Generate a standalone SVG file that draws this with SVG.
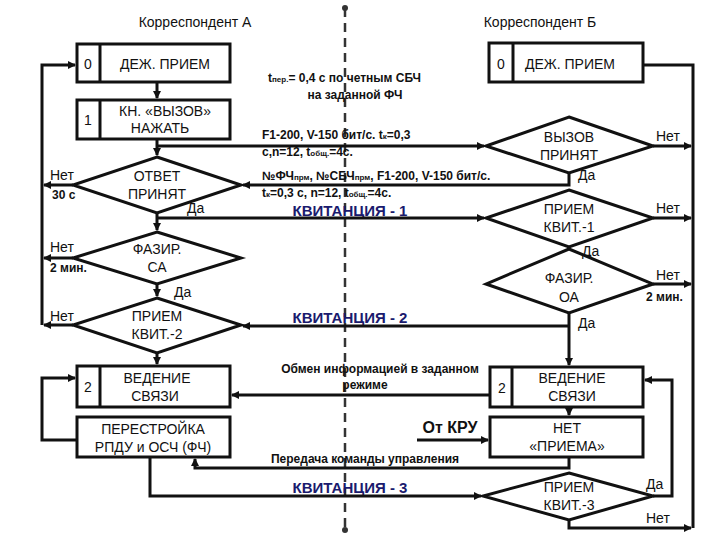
<svg xmlns="http://www.w3.org/2000/svg" width="720" height="540" viewBox="0 0 720 540">
<style>
text{font-family:"Liberation Sans",Arial,sans-serif;font-size:14px;fill:#111}
.n{text-anchor:middle}
.s{font-size:12px;font-weight:bold}
.k{font-size:15px;font-weight:bold;fill:#1a1a6e;text-anchor:middle}
.b{fill:#fff;stroke:#111;stroke-width:3}
.l{fill:none;stroke:#111;stroke-width:3}
</style>
<defs><marker id="a" markerWidth="8" markerHeight="8" refX="7" refY="4" orient="auto" markerUnits="userSpaceOnUse" viewBox="0 0 8 8"><path d="M0,0L8,4L0,8z" fill="#111"/></marker></defs>
<rect width="720" height="540" fill="#fff"/>
<line x1="345" y1="8" x2="345" y2="530" stroke="#333" stroke-width="2.5" stroke-dasharray="9,6"/>
<circle cx="345" cy="8" r="3" fill="#333"/><circle cx="345" cy="530" r="3" fill="#333"/>
<text x="195" y="27" class="n">Корреспондент А</text>
<text x="540" y="27" class="n">Корреспондент Б</text>
<text x="268" y="82" class="s">t<tspan font-size="8">пер.</tspan>= 0,4 с по четным СБЧ</text>
<text x="355" y="99" class="s n">на заданной ФЧ</text>
<text x="262" y="139" class="s">F1-200, V-150 бит/с. t<tspan font-size="8">к</tspan>=0,3</text>
<text x="262" y="156" class="s">с,n=12, t<tspan font-size="8">общ.</tspan>=4с.</text>
<text x="262" y="180" class="s">№ФЧ<tspan font-size="8">прм</tspan>, №СБЧ<tspan font-size="8">прм</tspan>, F1-200, V-150 бит/с.</text>
<text x="262" y="197" class="s">t<tspan font-size="8">к</tspan>=0,3 с, n=12, t<tspan font-size="8">общ.</tspan>=4с.</text>
<text x="350" y="216" class="k">КВИТАНЦИЯ - 1</text>
<text x="350" y="323" class="k">КВИТАНЦИЯ - 2</text>
<text x="350" y="493" class="k">КВИТАНЦИЯ - 3</text>
<text x="380" y="373" class="s n">Обмен информацией в заданном</text>
<text x="365" y="389" class="s n">режиме</text>
<text x="450" y="433" class="n" style="font-size:16px;font-weight:bold">От КРУ</text>
<text x="365" y="463" class="s n">Передача команды управления</text>
<g id="connectors">
<path class="l" d="M157,82V98" marker-end="url(#a)"/>
<path class="l" d="M157,139V155" marker-end="url(#a)"/>
<path class="l" d="M157,146H484" marker-end="url(#a)"/>
<path class="l" d="M569,173V185H243" marker-end="url(#a)"/>
<path class="l" d="M157,213V230" marker-end="url(#a)"/>
<path class="l" d="M157,218H484" marker-end="url(#a)"/>
<path class="l" d="M157,284V296" marker-end="url(#a)"/>
<path class="l" d="M157,353V364" marker-end="url(#a)"/>
<path class="l" d="M73,185H44" marker-end="url(#a)"/>
<path class="l" d="M73,258H44" marker-end="url(#a)"/>
<path class="l" d="M73,325H44" marker-end="url(#a)"/>
<path class="l" d="M42,325V65H75" marker-end="url(#a)"/>
<path class="l" d="M77,440H42V378H75" marker-end="url(#a)"/>
<path class="l" d="M150,457V496H481" marker-end="url(#a)"/>
<path class="l" d="M569,457V468H195V459" marker-end="url(#a)"/>
<path class="l" d="M490,395H232" marker-end="url(#a)"/>
<path class="l" d="M417,440H488" marker-end="url(#a)"/>
<path class="l" d="M569,313V365" marker-end="url(#a)"/>
<path class="l" d="M569,326H243" marker-end="url(#a)"/>
<path class="l" d="M569,407V415" marker-end="url(#a)"/>
<path class="l" d="M569,247V249" />
<path class="l" d="M653,496H672V380H645" marker-end="url(#a)"/>
<path class="l" d="M569,520V528H691" marker-end="url(#a)"/>
<path class="l" d="M643,65H693V528"/>
<path class="l" d="M653,146H691" marker-end="url(#a)"/>
<path class="l" d="M653,218H691" marker-end="url(#a)"/>
<path class="l" d="M653,284H691" marker-end="url(#a)"/>
</g>
<g id="a0"><rect class="b" x="77" y="44" width="153" height="38"/><line class="l" x1="100" y1="44" x2="100" y2="82"/><text x="88" y="69" class="n">0</text><text x="165" y="69" class="n">ДЕЖ. ПРИЕМ</text></g>
<g id="a1"><rect class="b" x="77" y="100" width="153" height="39"/><line class="l" x1="100" y1="100" x2="100" y2="139"/><text x="88" y="125" class="n">1</text><text x="165" y="116" class="n">КН. «ВЫЗОВ»</text><text x="160" y="133" class="n">НАЖАТЬ</text></g>
<g id="aOtv"><path class="b" d="M157,157L241,185L157,213L73,185Z"/><text x="157" y="181" class="n">ОТВЕТ</text><text x="157" y="199" class="n">ПРИНЯТ</text></g>
<g id="aFaz"><path class="b" d="M157,232L241,258L157,284L73,258Z"/><text x="157" y="254" class="n">ФАЗИР.</text><text x="157" y="272" class="n">СА</text></g>
<g id="aKv2"><path class="b" d="M157,298L241,325L157,353L73,325Z"/><text x="157" y="321" class="n">ПРИЕМ</text><text x="157" y="339" class="n">КВИТ.-2</text></g>
<g id="a2"><rect class="b" x="77" y="366" width="153" height="41"/><line class="l" x1="100" y1="366" x2="100" y2="407"/><text x="88" y="392" class="n">2</text><text x="157" y="383" class="n">ВЕДЕНИЕ</text><text x="155" y="401" class="n">СВЯЗИ</text></g>
<g id="aPer"><rect class="b" x="77" y="417" width="153" height="40"/><text x="153" y="434" class="n">ПЕРЕСТРОЙКА</text><text x="153" y="452" class="n">РПДУ и ОСЧ (ФЧ)</text></g>
<g id="b0"><rect class="b" x="489" y="43" width="154" height="39"/><line class="l" x1="513" y1="43" x2="513" y2="82"/><text x="501" y="69" class="n">0</text><text x="570" y="69" class="n">ДЕЖ. ПРИЕМ</text></g>
<g id="bVyz"><path class="b" d="M569,117L653,146L569,173L486,146Z"/><text x="569" y="142" class="n">ВЫЗОВ</text><text x="569" y="160" class="n">ПРИНЯТ</text></g>
<g id="bKv1"><path class="b" d="M569,190L653,218L569,247L486,218Z"/><text x="569" y="214" class="n">ПРИЕМ</text><text x="569" y="232" class="n">КВИТ.-1</text></g>
<g id="bFaz"><path class="b" d="M569,249L653,284L569,313L486,284Z"/><text x="569" y="283" class="n">ФАЗИР.</text><text x="569" y="302" class="n">ОА</text></g>
<g id="b2"><rect class="b" x="490" y="367" width="153" height="40"/><line class="l" x1="512" y1="367" x2="512" y2="407"/><text x="502" y="393" class="n">2</text><text x="572" y="383" class="n">ВЕДЕНИЕ</text><text x="572" y="401" class="n">СВЯЗИ</text></g>
<g id="bNet"><rect class="b" x="490" y="417" width="153" height="40"/><text x="567" y="433" class="n">НЕТ</text><text x="567" y="451" class="n">«ПРИЕМА»</text></g>
<g id="bKv3"><path class="b" d="M569,473L653,496L569,520L483,496Z"/><text x="569" y="492" class="n">ПРИЕМ</text><text x="569" y="510" class="n">КВИТ.-3</text></g>
<g id="labels">
<text x="50" y="180">Нет</text><text x="52" y="199" class="s">30 с</text><text x="187" y="213">Да</text>
<text x="50" y="252">Нет</text><text x="50" y="272" class="s">2 мин.</text><text x="174" y="297">Да</text>
<text x="50" y="321">Нет</text>
<text x="656" y="141">Нет</text><text x="578" y="180">Да</text><text x="656" y="213">Нет</text><text x="582" y="256">Да</text>
<text x="656" y="280">Нет</text><text x="646" y="301" class="s">2 мин.</text><text x="578" y="328">Да</text>
<text x="646" y="489">Да</text><text x="646" y="523">Нет</text>
</g>
</svg>
